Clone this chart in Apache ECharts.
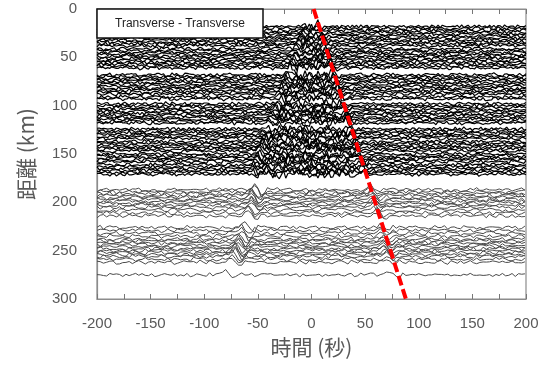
<!DOCTYPE html>
<html>
<head>
<meta charset="utf-8">
<script src="https://cdn.jsdelivr.net/npm/echarts@6/dist/echarts.min.js"></script>
<style>
  html, body { margin: 0; padding: 0; background: #fff; }
  #chart { width: 549px; height: 367px; }
</style>
</head>
<body>
<div id="chart"></div>
<script>
// x / y axis ticks
const xTicks = [-200, -150, -100, -50, 0, 50, 100, 150, 200];
const yTicks = [0, 50, 100, 150, 200, 250, 300];

// trace distances (km) with arrival times (s)
// upper block (black, dense)
const upperDist = [18, 20, 22, 24, 26, 28, 30, 32, 34, 36, 38, 41, 43, 45, 47, 49, 51, 53, 55, 57, 59, 61,
    68, 70, 72, 74, 76, 78, 80, 82, 84, 86, 88, 91, 93,
    98, 100, 102, 104, 106, 108, 110, 112, 114, 116, 118,
    124, 126, 128, 130, 132, 134, 137, 139, 141, 143, 145, 147, 150, 152, 154, 156, 158, 161, 163, 165, 167, 169, 171];
const upperNeg = [-6, -7, -7, -8, -9, -9, -10, -11, -11, -12, -13, -14, -14, -15, -16, -16, -17, -18, -18, -19, -20, -20,
    -22, -23, -23, -24, -25, -25, -26, -27, -27, -28, -29, -30, -30,
    -32, -32, -33, -34, -34, -35, -36, -36, -37, -38, -38,
    -40, -41, -41, -42, -43, -43, -44, -45, -46, -46, -47, -48, -48, -49, -50, -50, -51, -52, -53, -53, -54, -55, -55];
const upperPos = [6, 6, 7, 8, 8, 9, 10, 10, 11, 12, 12, 13, 14, 14, 15, 16, 16, 17, 18, 18, 19, 20,
    20, 21, 21, 22, 22, 23, 24, 24, 25, 25, 26, 27, 27,
    29, 29, 30, 31, 31, 32, 32, 33, 34, 34, 35,
    36, 37, 38, 38, 39, 39, 40, 41, 41, 42, 43, 43, 44, 45, 45, 46, 46, 47, 48, 48, 49, 50, 50];

// lower blocks (grey, sparser)
const lowerDist = [187, 189, 191, 193, 195, 197, 199, 201, 203, 205, 208, 211, 214,
    226, 229, 232, 235, 238, 240, 242, 244, 246, 248, 250, 252, 254, 256, 259, 262,
    275];
const lowerNeg = [-54, -54, -55, -55, -55, -56, -56, -56, -57, -57, -58, -59, -60,
    -63, -64, -65, -66, -67, -67, -68, -69, -69, -70, -71, -71, -72, -73, -74, -75,
    -79];
const lowerPos = [55, 55, 56, 56, 57, 57, 58, 58, 58, 59, 59, 60, 60,
    64, 64, 65, 65, 66, 66, 67, 67, 68, 68, 68, 69, 69, 70, 70, 71,
    72];

// wiggle shapes
const wavelet = [0.1, 0.4, 1.0, 0.3, -0.7, -0.6, 0.2, 0.1];
const noiseA = [0.3, -0.5, 0.8, -0.2, -0.7, 0.6, 0.1, -0.9, 0.4, 0.7, -0.3, -0.6, 0.9, -0.1, -0.8, 0.5,
    0.2, -0.4, 0.7, -0.9, 0.3, 0.6, -0.5, 0.1, -0.7, 0.8, -0.2, 0.4, -0.6, 0.9, -0.3, -0.1,
    0.6, -0.8, 0.2, 0.5, -0.4, 0.8, -0.7, 0.1, 0.3, -0.9, 0.6, -0.2, 0.5, -0.6, 0.2];
const noiseB = [-0.4, 0.7, 0.2, -0.8, 0.5, -0.1, 0.9, -0.6, 0.3, -0.3, 0.8, -0.9, 0.1, 0.6, -0.5, 0.4,
    -0.7, 0.2, 0.5, -0.2, -0.8, 0.7, -0.4, 0.3, 0.9, -0.6, 0.1, -0.3, 0.6, -0.9, 0.4];

// red dashed reference line (time, km)
const refLine = [[2, 0], [88, 300]];

function buildTrace(i, d, neg, pos, dt, noiseAmp, codaAmp, waveAmp, posAmp) {
    let pts = [];
    // each trace steps through the noise tables with its own stride
    let sa = 1 + (i * 5) % (noiseA.length - 1);
    let sb = 1 + (i * 3) % (noiseB.length - 1);
    let n = Math.round(400 / dt);
    for (let j = 0; j <= n; j++) {
        let t = -200 + j * dt;
        let v = 0.6 * noiseA[(j * sa + i) % noiseA.length] + 0.4 * noiseB[(j * sb + 2 * i) % noiseB.length];
        let amp = noiseAmp;
        if (codaAmp && t >= neg - 2 && t <= pos + 2) amp = codaAmp;
        v *= amp;
        let kn = Math.round((t - neg) / dt) + 2;
        if (kn >= 0 && kn < wavelet.length) v += wavelet[kn] * waveAmp;
        let kp = Math.round((t - pos) / dt) + 2;
        if (kp >= 0 && kp < wavelet.length) v += wavelet[kp] * posAmp;
        pts.push([t, d - v]);
    }
    return pts;
}

let series = [];
upperDist.forEach((d, i) => {
    series.push({
        type: "line",
        data: buildTrace(i, d, upperNeg[i], upperPos[i], 2, 2.3, 6, 2.5, 2.5),
        showSymbol: false,
        silent: true,
        lineStyle: { color: "#000", width: 1.2 },
        z: 2
    });
});
lowerDist.forEach((d, i) => {
    series.push({
        type: "line",
        data: buildTrace(i + 7, d, lowerNeg[i], lowerPos[i], 3, 2.6, 0, 6, 4),
        showSymbol: false,
        silent: true,
        lineStyle: { color: "#4a4a4a", width: 1 },
        z: 2
    });
});
series.push({
    type: "line",
    data: refLine,
    showSymbol: false,
    silent: true,
    lineStyle: { color: "#ff0000", width: 4, type: [10, 4] },
    z: 5
});

let chart = echarts.init(document.getElementById("chart"));
let axisText = { color: "#595959", fontSize: 15, fontFamily: "Liberation Sans, Arial, sans-serif" };
let option = {
    animation: false,
    title: {
        text: "Transverse - Transverse",
        left: 97,
        top: 9,
        padding: [9, 18, 8, 18],
        backgroundColor: "#fff",
        borderColor: "#111",
        borderWidth: 1.5,
        textStyle: { fontSize: 12, fontWeight: "normal", color: "#222", fontFamily: "Liberation Sans, Arial, sans-serif" },
        z: 10
    },
    grid: { left: 97, right: 23, top: 9, bottom: 68, show: true, borderColor: "#8c8c8c", borderWidth: 1.2 },
    xAxis: [
        {
            type: "value",
            min: xTicks[0],
            max: xTicks[xTicks.length - 1],
            interval: 50,
            name: "時間 (秒)",
            nameLocation: "middle",
            nameGap: 38,
            nameTextStyle: { fontSize: 21, color: "#595959", fontFamily: "Noto Sans CJK JP" },
            axisLine: { onZero: false, lineStyle: { color: "#8c8c8c", width: 1.2 } },
            axisTick: { inside: true, length: 5, lineStyle: { color: "#777" } },
            minorTick: { show: true, splitNumber: 2, length: 5, lineStyle: { color: "#777" } },
            axisLabel: Object.assign({ margin: 17 }, axisText),
            splitLine: { show: false }
        },
        {
            type: "value",
            position: "top",
            min: xTicks[0],
            max: xTicks[xTicks.length - 1],
            interval: 50,
            axisLine: { onZero: false, lineStyle: { color: "#8c8c8c", width: 1.2 } },
            axisTick: { inside: true, length: 5, lineStyle: { color: "#777" } },
            minorTick: { show: true, splitNumber: 2, length: 5, lineStyle: { color: "#777" } },
            axisLabel: { show: false },
            splitLine: { show: false }
        }
    ],
    yAxis: {
        type: "value",
        inverse: true,
        min: yTicks[0],
        max: yTicks[yTicks.length - 1],
        interval: 50,
        name: "距離 (km)",
        nameLocation: "middle",
        nameGap: 60,
        nameTextStyle: { fontSize: 21, color: "#595959", fontFamily: "Noto Sans CJK JP" },
        axisLine: { show: true, onZero: false, lineStyle: { color: "#8c8c8c", width: 1.2 } },
        axisTick: { show: false },
        axisLabel: Object.assign({ margin: 20 }, axisText),
        splitLine: { show: false }
    },
    series: series
};
chart.setOption(option);
</script>
</body>
</html>
